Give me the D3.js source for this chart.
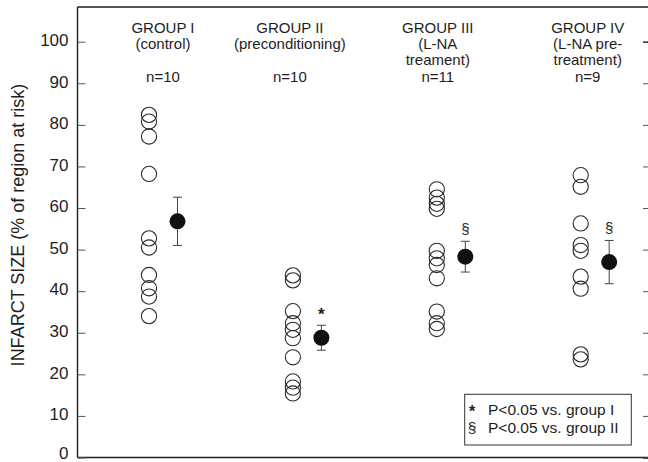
<!DOCTYPE html>
<html>
<head>
<meta charset="utf-8">
<script src="https://cdn.jsdelivr.net/npm/d3@7"></script>
<style>
  html, body { margin: 0; padding: 0; background: #fff; }
  svg { display: block; font-family: "Liberation Sans", Arial, Helvetica, sans-serif; }
</style>
</head>
<body>
<svg id="chart" width="648" height="462"></svg>
<script>
// Group headings
const groups = ["GROUP I", "GROUP II", "GROUP III", "GROUP IV"];
const groupNotes = [["(control)"], ["(preconditioning)"], ["(L-NA", "treament)"], ["(L-NA pre-", "treatment)"]];
const groupN = ["n=10", "n=10", "n=11", "n=9"];

// Individual infarct sizes (% of region at risk) per group
const groupI   = [82.4, 80.8, 77.2, 68.2, 52.7, 50.5, 43.9, 40.7, 38.7, 34.0];
const groupII  = [43.8, 42.6, 35.2, 32.3, 30.7, 28.7, 24.1, 18.3, 16.8, 15.4];
const groupIII = [64.5, 62.5, 61.0, 59.8, 49.7, 47.9, 46.3, 43.1, 35.1, 32.3, 30.9];
const groupIV  = [67.9, 65.1, 56.3, 51.1, 49.7, 43.5, 40.6, 24.8, 23.6];
const individual = [groupI, groupII, groupIII, groupIV];

// Group mean and SEM
const means = [56.8, 28.8, 48.3, 47.0];
const sems  = [5.8, 3.0, 3.7, 5.2];
const sigMarks = ["", "*", "§", "§"];

const yTicks = [0, 10, 20, 30, 40, 50, 60, 70, 80, 90, 100];
const yTitle = "INFARCT SIZE (% of region at risk)";
const legendRows = [["*", "P<0.05 vs. group I"], ["§", "P<0.05 vs. group II"]];

// ---- layout ----
const plotLeft = 77.5, plotRight = 650, plotTop = 7, plotBottom = 457.5;
const ink = "#1e1e1e";
const svg = d3.select("#chart");

const y = d3.scaleLinear().domain([0, 100]).range([plotBottom, 41.7]);
const x = d3.scaleLinear().domain([0, 3]).range([149, 580.7]);
const meanDx = 28.5;
const labelShift = [14, -3, 1, 7];

// frame: top and bottom rules
svg.append("line").attr("x1", plotLeft).attr("x2", plotRight).attr("y1", plotTop).attr("y2", plotTop)
  .attr("stroke", ink).attr("stroke-width", 1.4);
svg.append("line").attr("x1", plotLeft).attr("x2", plotRight).attr("y1", plotBottom).attr("y2", plotBottom)
  .attr("stroke", ink).attr("stroke-width", 1.4);

// left axis with inward ticks
const yAxis = d3.axisLeft(y).tickValues(yTicks).tickSize(-8).tickPadding(9).tickFormat(d3.format("d"));
const gy = svg.append("g").attr("transform", `translate(${plotLeft},0)`).call(yAxis);
gy.select(".domain").attr("stroke", ink).attr("stroke-width", 1.4)
  .attr("d", `M0,${plotTop}V${plotBottom}`);
gy.selectAll(".tick line").attr("stroke", "#555").attr("stroke-width", 1);
gy.selectAll(".tick text").attr("fill", ink)
  .attr("dy", d => d === 0 ? "0.05em" : "0.22em")   // lift the zero label off the bottom edge
  .style("font-size", "17px")
  .style("font-family", "'Liberation Sans', Arial, sans-serif");

// right axis ticks (inward)
const yAxisR = d3.axisRight(y).tickValues(yTicks).tickSize(-7).tickFormat("");
const gr = svg.append("g").attr("transform", `translate(${plotRight},0)`).call(yAxisR);
gr.select(".domain").attr("stroke", ink).attr("stroke-width", 1.4);
gr.selectAll(".tick line").attr("stroke", "#555").attr("stroke-width", 1);

// y title
svg.append("text")
  .attr("transform", `translate(23.5,${225}) rotate(-90)`)
  .attr("text-anchor", "middle")
  .attr("fill", ink)
  .style("font-size", "18px")
  .text(yTitle);

// group headings
groups.forEach((g, i) => {
  const cx = x(i) + labelShift[i];
  const t = svg.append("g").attr("fill", ink).style("font-size", "15px").attr("text-anchor", "middle");
  t.append("text").attr("x", cx).attr("y", 33).text(g);
  groupNotes[i].forEach((line, j) => {
    t.append("text").attr("x", cx).attr("y", 48.5 + j * 16.7).text(line);
  });
  t.append("text").attr("x", cx).attr("y", 82).text(groupN[i]);
});

// individual animals: open circles
individual.forEach((vals, i) => {
  svg.append("g").selectAll("circle").data(vals).join("circle")
    .attr("cx", x(i)).attr("cy", d => y(d)).attr("r", 7.6)
    .attr("fill", "none").attr("stroke", "#2a2a2a").attr("stroke-width", 1.1);
});

// means with SEM bars
means.forEach((m, i) => {
  const cx = x(i) + meanDx;
  const g = svg.append("g");
  const hi = y(m + sems[i]), lo = y(m - sems[i]);
  g.append("line").attr("x1", cx).attr("x2", cx).attr("y1", hi).attr("y2", lo)
    .attr("stroke", "#444").attr("stroke-width", 1);
  [hi, lo].forEach(v => g.append("line").attr("x1", cx - 4.5).attr("x2", cx + 4.5)
    .attr("y1", v).attr("y2", v).attr("stroke", "#444").attr("stroke-width", 1));
  g.append("circle").attr("cx", cx).attr("cy", y(m)).attr("r", 8).attr("fill", "#111");
  if (sigMarks[i]) {
    g.append("text").attr("x", cx).attr("y", hi - (sigMarks[i] === "*" ? 5 : 7))
      .attr("text-anchor", "middle").attr("fill", ink)
      .style("font-size", sigMarks[i] === "*" ? "17px" : "15px")
      .style("font-weight", sigMarks[i] === "*" ? "bold" : "normal")
      .text(sigMarks[i]);
  }
});

// legend
const lg = svg.append("g");
lg.append("rect").attr("x", 464.7).attr("y", 394.3).attr("width", 166.6).attr("height", 50.7)
  .attr("fill", "#fff").attr("stroke", "#333").attr("stroke-width", 1);
legendRows.forEach((r, k) => {
  const by = 415 + k * 18.3;
  lg.append("text").attr("x", 472).attr("y", by + (r[0] === "*" ? 2 : 0)).attr("text-anchor", "middle")
    .attr("fill", ink).style("font-size", r[0] === "*" ? "16px" : "15.5px")
    .style("font-weight", r[0] === "*" ? "bold" : "normal").text(r[0]);
  lg.append("text").attr("x", 488).attr("y", by).attr("fill", ink).style("font-size", "15.5px").text(r[1]);
});
</script>
</body>
</html>
